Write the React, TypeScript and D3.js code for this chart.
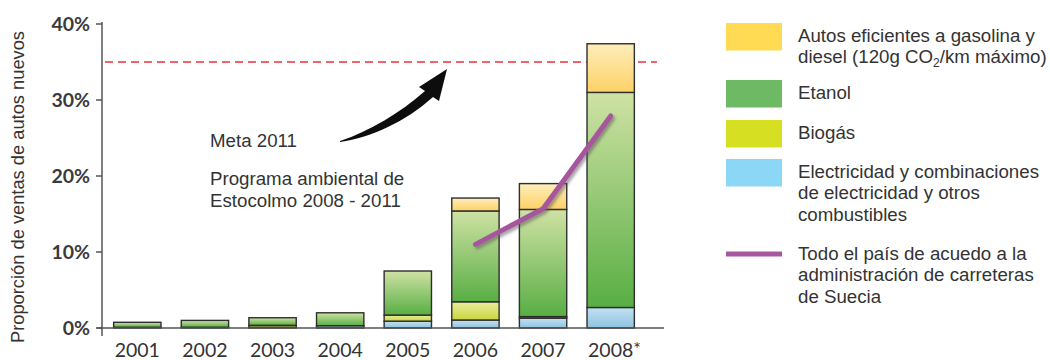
import React from 'react';
import * as d3 from 'd3';

const years = ['2001', '2002', '2003', '2004', '2005', '2006', '2007', '2008*'];
const electricidad = [0, 0, 0.1, 0.3, 0.9, 1.05, 1.3, 2.7];
const biogas = [0.1, 0.1, 0.25, 0, 0.8, 2.4, 0.2, 0];
const etanol = [0.65, 0.9, 1.0, 1.7, 5.8, 11.95, 14.1, 28.3];
const eficientes = [0, 0, 0, 0, 0, 1.7, 3.4, 6.4];
const nacional: (number | null)[] = [null, null, null, null, null, 11.0, 15.7, 27.9];
const yTicks = [0, 10, 20, 30, 40];
const meta = 35;

const seriesKeys = ['electricidad', 'biogas', 'etanol', 'eficientes'];
const seriesValues: Record<string, number[]> = { electricidad, biogas, etanol, eficientes };
const gradStops: Record<string, [string, string]> = {
  electricidad: ['#c2e1f1', '#8fc3e0'],
  biogas: ['#ebed9c', '#c9d63e'],
  etanol: ['#cfe2a4', '#58ae44'],
  eficientes: ['#feedbb', '#fdd266'],
};

const legendItems = [
  { color: '#fedb52', lines: ['Autos eficientes a gasolina y', 'CO2LINE'], y: 23 },
  { color: '#6db964', lines: ['Etanol'], y: 80 },
  { color: '#d6df22', lines: ['Biogás'], y: 120 },
  { color: '#8dd7f6', lines: ['Electricidad y combinaciones', 'de electricidad y otros', 'combustibles'], y: 159 },
];
const lineLegend = ['Todo el país de acuedo a la', 'administración de carreteras', 'de Suecia'];

export default function App() {
  const x = d3.scaleBand<string>().domain(years).range([103.5, 644.5]).paddingInner(0.3).paddingOuter(0.15);
  const y = d3.scaleLinear().domain([0, 40]).range([328, 24]);

  const rows = years.map((yr, i) => {
    const r: any = { year: yr };
    seriesKeys.forEach((k) => (r[k] = seriesValues[k][i]));
    return r;
  });
  const stacked = d3.stack<any>().keys(seriesKeys)(rows);

  const linePts = years
    .map((yr, i) => ({ yr, v: nacional[i] }))
    .filter((d) => d.v !== null) as { yr: string; v: number }[];
  const lineGen = d3
    .line<{ yr: string; v: number }>()
    .x((d) => (x(d.yr) as number) + x.bandwidth() / 2)
    .y((d) => y(d.v));

  const textColor = '#333333';
  const sans = '"Liberation Sans", Arial, sans-serif';
  const tickFont = 'Lato, "DejaVu Sans", sans-serif';
  const fs = 18.7;
  const lh = 21.4;

  return (
    <svg width={1050} height={360} style={{ position: 'absolute', left: 0, top: 0 }} fontFamily={sans}>
      <defs>
        {seriesKeys.map((k) => (
          <linearGradient key={k} id={`g-${k}`} x1="0" y1="0" x2="0" y2="1">
            <stop offset="0%" stopColor={gradStops[k][0]} />
            <stop offset="100%" stopColor={gradStops[k][1]} />
          </linearGradient>
        ))}
        <filter id="shadow" x="-20%" y="-20%" width="140%" height="140%">
          <feDropShadow dx="2" dy="2.5" stdDeviation="1.5" floodColor="#555" floodOpacity="0.55" />
        </filter>
        <filter id="soft" x="-10%" y="-10%" width="120%" height="120%">
          <feGaussianBlur stdDeviation="0.5" />
        </filter>
      </defs>

      <rect width={1050} height={360} fill="#ffffff" />

      {/* y axis title */}
      <text transform="translate(24,187) rotate(-90)" textAnchor="middle" fontSize={18.3} fill={textColor}>
        Proporción de ventas de autos nuevos
      </text>

      {/* y ticks */}
      {yTicks.map((t) => (
        <g key={t}>
          <line x1={96} x2={102} y1={y(t)} y2={y(t)} stroke="#555" strokeWidth={1.5} />
          <text
            x={90}
            y={y(t)}
            dy="0.36em"
            textAnchor="end"
            fontSize={19.5}
            fontWeight="bold"
            fontFamily={tickFont}
            fill="#3a3a3a"
          >
            {t}%
          </text>
        </g>
      ))}

      {/* meta dashed line */}
      <line x1={105} x2={657} y1={y(meta)} y2={y(meta)} stroke="#e8323c" strokeWidth={1.4} strokeDasharray="8,5" />

      {/* bars */}
      {stacked.map((s) => (
        <g key={s.key}>
          {s.map((d, i) =>
            d[1] - d[0] > 0 ? (
              <rect
                key={i}
                x={x(years[i])}
                y={y(d[1])}
                width={x.bandwidth()}
                height={y(d[0]) - y(d[1])}
                fill={`url(#g-${s.key})`}
                stroke="#2e2e2e"
                strokeWidth={1.4}
              />
            ) : null
          )}
        </g>
      ))}

      {/* axes */}
      <line x1={102} x2={102} y1={22} y2={336} stroke="#555" strokeWidth={1.5} />
      <line x1={97} x2={664} y1={y(0)} y2={y(0)} stroke="#555" strokeWidth={1.5} />

      {/* x labels */}
      {years.map((yr) => {
        const cx = (x(yr) as number) + x.bandwidth() / 2;
        const star = yr.endsWith('*');
        const label = yr.replace('*', '');
        return (
          <g key={yr}>
            <text x={cx} y={357} textAnchor="middle" fontSize={19.5} fontFamily={tickFont} fill={textColor}>
              {label}
            </text>
            {star && (
              <text x={cx + 22.5} y={355} fontSize={18} fontFamily={tickFont} fill={textColor}>
                *
              </text>
            )}
          </g>
        );
      })}

      {/* national line */}
      <path
        d={lineGen(linePts) || ''}
        fill="none"
        stroke="#a8559f"
        strokeWidth={5}
        strokeLinejoin="round"
        strokeLinecap="round"
        filter="url(#shadow)"
      />

      {/* annotation arrow */}
      <path
        d="M340,142 C372,137 405,122 433,97 L439,101 L447,69 L419,87 L425,91 C400,113 370,131 340,141 Z"
        fill="#111"
        filter="url(#soft)"
      />
      <text x={210} y={147} fontSize={fs} fill={textColor}>
        Meta 2011
      </text>
      <text x={210} y={185} fontSize={fs} fill={textColor}>
        Programa ambiental de
      </text>
      <text x={210} y={207} fontSize={fs} fill={textColor}>
        Estocolmo 2008 - 2011
      </text>

      {/* legend */}
      {legendItems.map((it) => (
        <g key={it.color}>
          <rect x={726} y={it.y} width={56} height={27.5} fill={it.color} />
          {it.lines.map((ln, j) =>
            ln === 'CO2LINE' ? (
              <text key={j} x={798} y={it.y + 18.8 + j * lh} fontSize={fs} fill={textColor}>
                diesel (120g CO
                <tspan fontSize={12} dy={4}>
                  2
                </tspan>
                <tspan dy={-4}>/km máximo)</tspan>
              </text>
            ) : (
              <text key={j} x={798} y={it.y + 18.8 + j * lh} fontSize={fs} fill={textColor}>
                {ln}
              </text>
            )
          )}
        </g>
      ))}
      <line x1={726} x2={782} y1={254} y2={254} stroke="#a8579f" strokeWidth={5} />
      {lineLegend.map((ln, j) => (
        <text key={j} x={798} y={260 + j * lh} fontSize={fs} fill={textColor}>
          {ln}
        </text>
      ))}
    </svg>
  );
}
